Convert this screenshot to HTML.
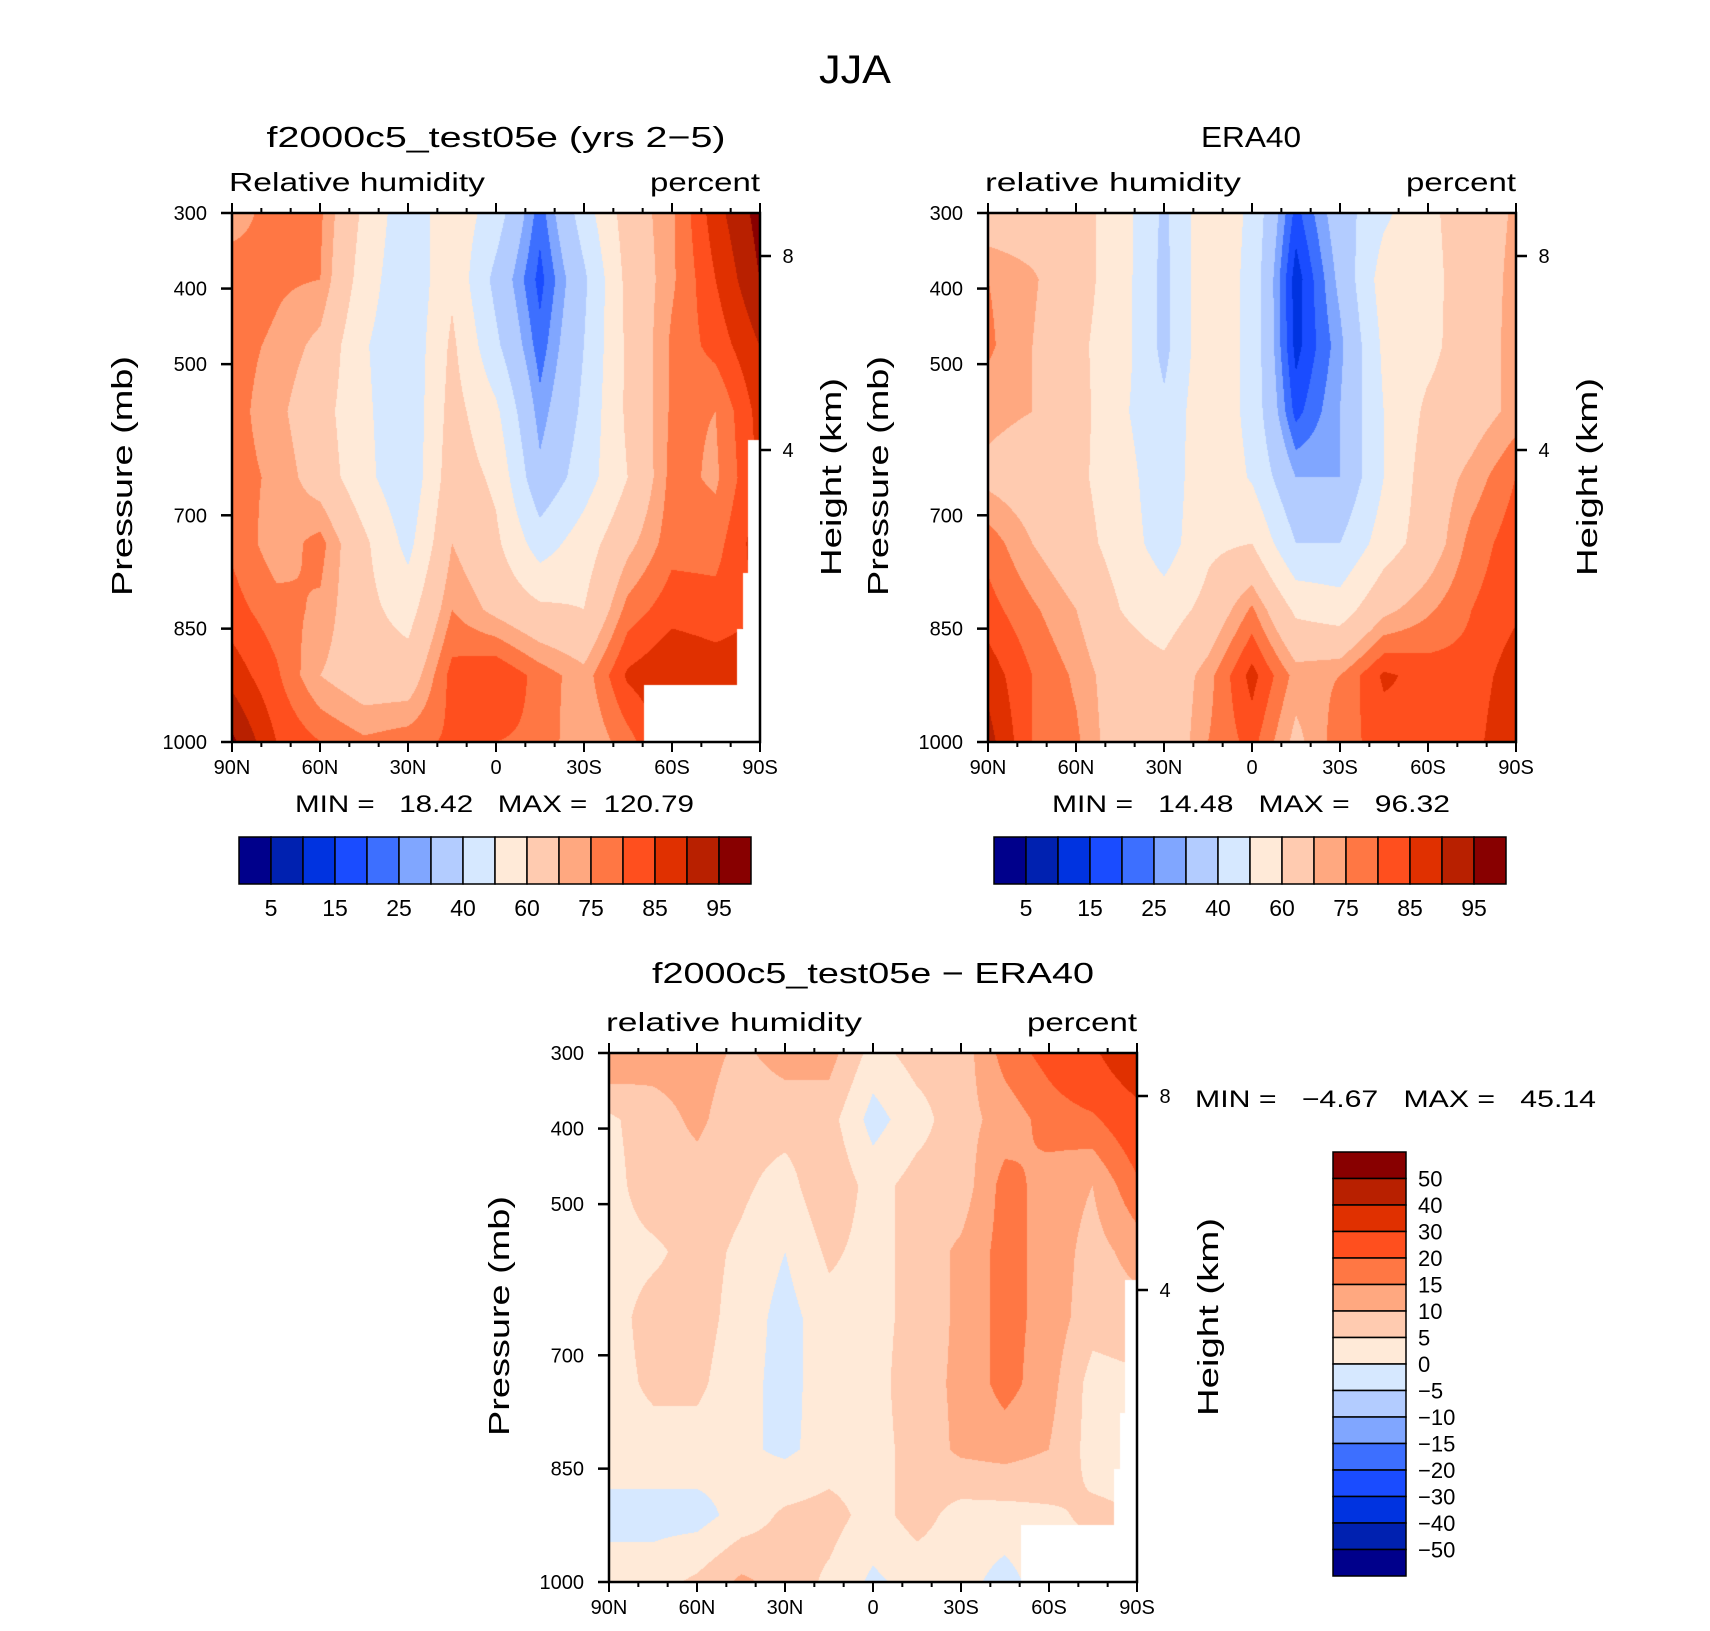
<!DOCTYPE html>
<html>
<head>
<meta charset="utf-8">
<style>
html,body{margin:0;padding:0;background:#fff;}
#wrap{position:relative;width:1710px;height:1631px;overflow:hidden;font-family:"Liberation Sans",sans-serif;}
canvas{position:absolute;}
svg{position:absolute;left:0;top:0;}
</style>
</head>
<body>
<div id="wrap">
<canvas id="c1" width="528" height="529" style="left:232px;top:213px"></canvas>
<canvas id="c2" width="528" height="529" style="left:988px;top:213px"></canvas>
<canvas id="c3" width="528" height="529" style="left:609px;top:1053px"></canvas>
<svg id="svg" width="1710" height="1631"></svg>
</div>
<script>
// ---- data ----
const latTicks = [90, 60, 30, 0, -30, -60, -90];
const latLabels = ['90N','60N','30N','0','30S','60S','90S'];
const presTicks = [300, 400, 500, 700, 850, 1000];
const heightTicks = [8, 4];
const rhLevels = [5,10,15,20,25,30,40,50,60,70,75,80,85,90,95];
const diffLevels = [-50,-40,-30,-20,-15,-10,-5,0,5,10,15,20,30,40,50];
const rhBarLabels = ['5','15','25','40','60','75','85','95'];
const diffBarLabels = ['50','40','30','20','15','10','5','0','\u22125','\u221210','\u221215','\u221220','\u221230','\u221240','\u221250'];
const palette = ['#00008b','#0021b0','#0033e0','#1a4cff','#3d6fff','#80a6ff','#b3ccff','#d6e8ff','#ffead8','#ffcbb0','#ffa880','#ff7744','#ff4f1e','#e03000','#b82000','#880000'];
// grid rows: pressure 300..1000 (9 evenly spaced), cols: 90N..90S every 15 deg
const modelRH = [
 [72,78,76,58,43,57,45,22,45,65,74,88,97],
 [79,76,75,55,42,58,37,18,38,63,74,85,95],
 [77,74,68,51,42,62,42,22,40,62,76,82,90],
 [77,72,64,52,42,64,52,27,42,62,76,75,87],
 [77,74,66,53,42,66,58,32,45,60,77,74,86],
 [79,72,77,62,47,70,62,45,55,68,78,78,88],
 [82,77,74,63,56,75,68,62,60,77,83,82,85],
 [88,81,70,65,65,82,85,78,72,86,90,88,88],
 [96,85,80,76,78,81,80,79,70,78,88,88,88]
];
const eraRH = [
 [65,65,64,55,38,58,48,18,35,48,58,65,71],
 [75,71,64,55,37,58,47,12,32,55,57,65,72],
 [76,70,62,55,37,58,47,13,28,52,57,66,72],
 [72,70,64,52,42,58,47,18,30,50,62,66,72],
 [68,65,62,55,43,58,49,30,30,50,65,72,80],
 [78,70,64,56,45,58,60,40,40,55,65,77,83],
 [82,76,70,60,55,63,76,58,55,68,74,80,84],
 [88,80,74,65,63,73,87,73,75,86,83,82,88],
 [92,80,76,65,63,75,82,68,78,82,85,83,90]
];
const diffRH = [
 [15,12,12,9,12,12,3,7,7,17,22,28,40],
 [4,8,11,7,7,7,-2,3,8,12,17,19,25],
 [3,8,8,6,3,9,3,7,7,17,13,10,19],
 [3,4,7,4,0,6,3,7,11,17,13,8,12],
 [3,7,7,3,-2,3,3,7,11,17,13,7,8],
 [3,6,6,2,-2,3,3,8,11,17,12,3,4],
 [3,3,3,1,-1,2,3,7,11,12,10,3,3],
 [-2,-2,-2,2,6,7,3,7,3,3,4,6,5],
 [3,3,6,11,8,4,-1,2,2,-2,3,3,3]
];

// ---- geometry ----
const W = 528, H = 529;
const panels = [
 {x:232, y:213, canvas:'c1', grid:modelRH, levels:rhLevels, mask:true, name:'model'},
 {x:988, y:213, canvas:'c2', grid:eraRH, levels:rhLevels, mask:false, name:'era40'},
 {x:609, y:1053, canvas:'c3', grid:diffRH, levels:diffLevels, mask:true, name:'difference'}
];
function xLat(p, lat){ return p.x + (90 - lat) / 180 * W; }
function yPres(p, pr){ return p.y + (pr - 300) / 700 * H; }

function colorIndex(v, levels){
  let i = 0;
  while (i < levels.length && v >= levels[i]) i++;
  return i;
}
function hexRgb(h){ return [parseInt(h.substr(1,2),16),parseInt(h.substr(3,2),16),parseInt(h.substr(5,2),16)]; }
const rgbPal = palette.map(hexRgb);

function drawField(p){
  const cv = document.getElementById(p.canvas);
  const ctx = cv.getContext('2d');
  const img = ctx.createImageData(W, H);
  const g = p.grid, nr = g.length, nc = g[0].length;
  for (let py = 0; py < H; py++){
    const fy = py / (H - 1) * (nr - 1);
    const r0 = Math.min(Math.floor(fy), nr - 2), ty = fy - r0;
    for (let px = 0; px < W; px++){
      const fx = px / (W - 1) * (nc - 1);
      const c0 = Math.min(Math.floor(fx), nc - 2), tx = fx - c0;
      const v = (g[r0][c0]*(1-tx) + g[r0][c0+1]*tx)*(1-ty) + (g[r0+1][c0]*(1-tx) + g[r0+1][c0+1]*tx)*ty;
      let col = rgbPal[colorIndex(v, p.levels)];
      const fxx = px / W, fyy = py / H;
      if (p.mask && ((fxx >= 0.977 && fyy >= 0.428) || (fxx >= 0.966 && fyy >= 0.68) || (fxx >= 0.955 && fyy >= 0.785) || (fxx >= 0.779 && fyy >= 0.892))) col = [255,255,255];
      const k = (py * W + px) * 4;
      img.data[k] = col[0]; img.data[k+1] = col[1]; img.data[k+2] = col[2]; img.data[k+3] = 255;
    }
  }
  ctx.putImageData(img, 0, 0);
}
panels.forEach(drawField);

// ---- SVG axes and text ----
const NS = 'http://www.w3.org/2000/svg';
const svg = document.getElementById('svg');
function mk(tag, attrs, parent){
  const e = document.createElementNS(NS, tag);
  for (const k in attrs) e.setAttribute(k, attrs[k]);
  (parent || svg).appendChild(e);
  return e;
}
function txt(s, x, y, size, anchor, extra){
  const a = {x:x, y:y, 'font-size':size, 'text-anchor':anchor || 'middle', 'font-family':'Liberation Sans, sans-serif', fill:'#000'};
  if (extra) for (const k in extra) a[k] = extra[k];
  const t = mk('text', a);
  t.textContent = s;
  return t;
}

let t;
t = txt('JJA', 855, 83, 40, 'middle', {textLength:72, lengthAdjust:'spacingAndGlyphs'});



const titles = [
  {s:'f2000c5_test05e (yrs 2\u22125)', cx:496, y:147, len:459, left:'Relative humidity'},
  {s:'ERA40', cx:1251, y:147, len:100, left:'relative humidity'},
  {s:'f2000c5_test05e \u2212 ERA40', cx:873, y:983, len:442, left:'relative humidity'}
];
const minmax = [
  {s:'MIN =   18.42   MAX =  120.79', x:295, y:812, len:399},
  {s:'MIN =   14.48   MAX =   96.32', x:1052, y:812, len:398},
  {s:'MIN =   \u22124.67   MAX =   45.14', x:1195, y:1107, len:401}
];

panels.forEach((p, i) => {
  const g = mk('g', {});
  
  
  const ti = txt(titles[i].s, titles[i].cx, titles[i].y, 29, 'middle', {textLength:titles[i].len, lengthAdjust:'spacingAndGlyphs'});
  
  
  const lt = txt(titles[i].left, p.x - 3, p.y - 22, 26, 'start', {textLength:256, lengthAdjust:'spacingAndGlyphs'});
  
  
  const rt = txt('percent', p.x + W, p.y - 22, 26, 'end', {textLength:110, lengthAdjust:'spacingAndGlyphs'});
  
  
  const fr = mk('rect', {x:p.x, y:p.y, width:W, height:H, fill:'none', stroke:'#000', 'stroke-width':2.5});
  
  
  for (let lat = 90; lat >= -90; lat -= 10){
    const x = xLat(p, lat);
    const major = (lat % 30 === 0);
    const L = major ? 10 : 5;
    mk('line', {x1:x, y1:p.y + H, x2:x, y2:p.y + H + L, stroke:'#000', 'stroke-width':2});
    mk('line', {x1:x, y1:p.y, x2:x, y2:p.y - L, stroke:'#000', 'stroke-width':2});
  }
  latTicks.forEach((lat, j) => {
    const l = txt(latLabels[j], xLat(p, lat), p.y + H + 32, 20, 'middle');
    
    
  });
  presTicks.forEach(pr => {
    const y = yPres(p, pr);
    mk('line', {x1:p.x - 11, y1:y, x2:p.x, y2:y, stroke:'#000', 'stroke-width':2.5});
    const l = txt(String(pr), p.x - 25, y + 7, 20, 'end');
    
    
  });
  heightTicks.forEach(h => {
    const y = p.y + 43 + (8 - h) * 48.5;
    mk('line', {x1:p.x + W, y1:y, x2:p.x + W + 11, y2:y, stroke:'#000', 'stroke-width':2.5});
    const l = txt(String(h), p.x + W + 28, y + 7, 20, 'middle');
    
    
  });
  const yt = txt('Pressure (mb)', 0, 0, 29, 'middle', {transform:'translate(' + (p.x - 100) + ',' + (p.y + 263) + ') rotate(-90)', textLength:240, lengthAdjust:'spacingAndGlyphs'});
  
  
  const ht = txt('Height (km)', 0, 0, 29, 'middle', {transform:'translate(' + (p.x + W + 81) + ',' + (p.y + 264) + ') rotate(-90)', textLength:198, lengthAdjust:'spacingAndGlyphs'});
  
  
  const mm = txt(minmax[i].s, minmax[i].x, minmax[i].y, 24, 'start', {textLength:minmax[i].len, lengthAdjust:'spacingAndGlyphs', style:'white-space:pre'});
  
  
});

[{x:239, name:'model'}, {x:994, name:'era40'}].forEach(cb => {
  const bw = 512 / 16;
  palette.forEach((c, k) => {
    const r = mk('rect', {x:cb.x + k*bw, y:837, width:bw, height:47, fill:c, stroke:'#000', 'stroke-width':1.5});
    
    
  });
  rhBarLabels.forEach((s, j) => {
    const l = txt(s, cb.x + (2*j + 1) * bw, 916, 23, 'middle');
    
    
  });
});
{
  const bh = 424 / 16;
  palette.slice().reverse().forEach((c, k) => {
    const r = mk('rect', {x:1333, y:1152 + k*bh, width:73, height:bh, fill:c, stroke:'#000', 'stroke-width':1.5});
    
    
  });
  diffBarLabels.forEach((s, j) => {
    const l = txt(s, 1418, 1152 + (j + 1) * bh + 8, 22, 'start');
    
    
  });
}
</script>
</body>
</html>
